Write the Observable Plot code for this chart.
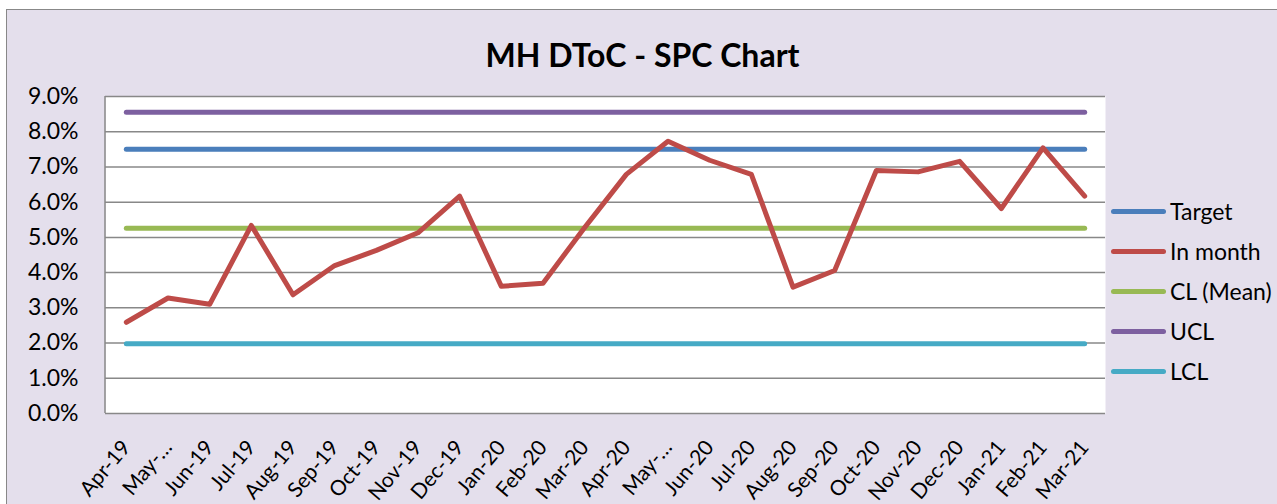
<!DOCTYPE html>
<html>
<head>
<meta charset="utf-8">
<script src="https://cdn.jsdelivr.net/npm/d3@7"></script>
<script src="https://cdn.jsdelivr.net/npm/@observablehq/plot@0.6"></script>
<style>
  html, body { margin: 0; padding: 0; background: #ffffff; }
  #wrap { position: relative; width: 1277px; height: 504px; overflow: hidden; font-family: Lato, "Open Sans", sans-serif; }
  #panel { position: absolute; left: 6px; top: 9px; width: 1400px; height: 600px; background: #E4DFEC; border: 1.5px solid #888888; box-sizing: border-box; }
  #chart { position: absolute; left: 0; top: 0; }
  #title { position: absolute; left: 0; width: 1285px; top: 35px; text-align: center; font-weight: bold; font-size: 32px; line-height: 40px; color: #000; }
  #legend { position: absolute; left: 1110px; top: 0; }
  .item { position: absolute; left: 0; height: 24px; white-space: nowrap; font-size: 23px; color: #000; }
  .swatch { position: absolute; left: 1px; width: 55px; height: 5px; border-radius: 3px; }
  .lbl { position: absolute; left: 60px; line-height: 26px; top: -13px; }
</style>
</head>
<body>
<div id="wrap">
  <div id="panel"></div>
  <div id="chart"></div>
  <div id="title"></div>
  <div id="legend"></div>
</div>
<script>
// ---- data ----
const titleText = "MH DToC - SPC Chart";
const months = ["Apr-19","May-19","Jun-19","Jul-19","Aug-19","Sep-19","Oct-19","Nov-19","Dec-19","Jan-20","Feb-20","Mar-20",
                "Apr-20","May-20","Jun-20","Jul-20","Aug-20","Sep-20","Oct-20","Nov-20","Dec-20","Jan-21","Feb-21","Mar-21"];
const monthLabels = ["Apr-19","May-…","Jun-19","Jul-19","Aug-19","Sep-19","Oct-19","Nov-19","Dec-19","Jan-20","Feb-20","Mar-20",
                     "Apr-20","May-…","Jun-20","Jul-20","Aug-20","Sep-20","Oct-20","Nov-20","Dec-20","Jan-21","Feb-21","Mar-21"];
const inMonth = [0.0259,0.0328,0.0310,0.0534,0.0337,0.0420,0.0463,0.0513,0.0617,0.0361,0.0370,0.0528,
                 0.0679,0.0773,0.0719,0.0679,0.0359,0.0406,0.0690,0.0686,0.0716,0.0582,0.0754,0.0617];
const targetValue = 0.075;
const clValue = 0.0526;
const uclValue = 0.0855;
const lclValue = 0.0198;
const yTicks = [0,0.01,0.02,0.03,0.04,0.05,0.06,0.07,0.08,0.09];
const seriesNames = ["Target","In month","CL (Mean)","UCL","LCL"];
const seriesColors = ["#4A7EBB","#BE4B48","#98B954","#7D60A0","#46AAC5"];

// ---- build table ----
const constants = {"Target": targetValue, "CL (Mean)": clValue, "UCL": uclValue, "LCL": lclValue};
const rows = [];
for (const name of ["LCL","UCL","CL (Mean)","Target"]) {
  months.forEach(m => rows.push({series: name, month: m, value: constants[name]}));
}
months.forEach((m, i) => rows.push({series: "In month", month: m, value: inMonth[i]}));

const labelOf = new Map(months.map((m, i) => [m, monthLabels[i]]));

// left axis line of the plot area
const leftAxisLine = (index, scales, values, dims) => {
  const g = d3.create("svg:line")
    .attr("x1", dims.marginLeft).attr("x2", dims.marginLeft)
    .attr("y1", dims.marginTop).attr("y2", dims.height - dims.marginBottom)
    .attr("stroke", "#888888").attr("stroke-width", 1.5);
  return g.node();
};

const chart = Plot.plot({
  width: 1277,
  height: 504,
  marginLeft: 105,
  marginRight: 172,
  marginTop: 96,
  marginBottom: 91,
  style: {background: "transparent", fontFamily: "Lato, 'Open Sans', sans-serif", color: "#000"},
  x: {type: "point", domain: months, padding: 0.5, round: false, label: null},
  y: {domain: [0, 0.09], label: null},
  color: {domain: seriesNames, range: seriesColors},
  marks: [
    Plot.frame({fill: "white", stroke: null}),
    Plot.ruleY(yTicks, {stroke: "#888888", strokeWidth: 1.5}),
    leftAxisLine,
    Plot.lineY(rows, {x: "month", y: "value", z: "series", stroke: "series", strokeWidth: 5, strokeLinecap: "round", strokeLinejoin: "round"}),
    Plot.axisY(yTicks, {tickSize: 0, tickPadding: 27, fontSize: 23, label: null, tickFormat: d => (d * 100).toFixed(1) + "%"}),
    Plot.axisX({tickSize: 0, tickPadding: 30, tickRotate: -50, fontSize: 21, label: null, tickFormat: d => labelOf.get(d)})
  ]
});
document.getElementById("chart").appendChild(chart);
document.getElementById("title").textContent = titleText;

const legendY = [211, 251, 291, 331, 371];
const legend = document.getElementById("legend");
seriesNames.forEach((name, i) => {
  const item = document.createElement("div");
  item.className = "item";
  item.style.top = legendY[i] + "px";
  item.innerHTML = `<div class="swatch" style="background:${seriesColors[i]};top:-2.5px"></div><div class="lbl">${name}</div>`;
  legend.appendChild(item);
});
</script>
</body>
</html>
